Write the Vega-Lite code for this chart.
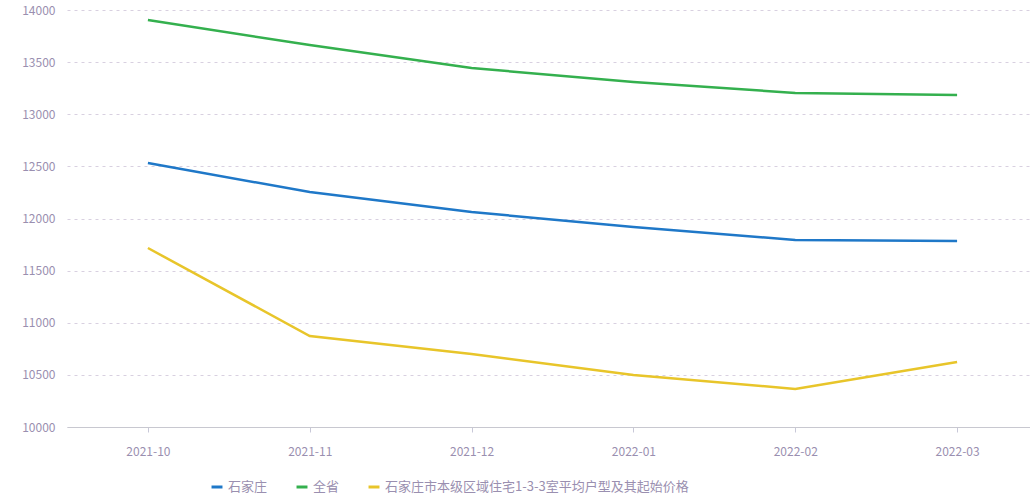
{
  "$schema": "https://vega.github.io/schema/vega-lite/v6.json",
  "width": 971,
  "height": 417,
  "padding": {"left": 21, "top": 4, "right": 0, "bottom": 4},
  "background": "white",
  "data": {
    "values": [
      {"month": "2021-10", "series": "石家庄", "value": 12532},
      {"month": "2021-11", "series": "石家庄", "value": 12254},
      {"month": "2021-12", "series": "石家庄", "value": 12062},
      {"month": "2022-01", "series": "石家庄", "value": 11918},
      {"month": "2022-02", "series": "石家庄", "value": 11794},
      {"month": "2022-03", "series": "石家庄", "value": 11784},
      {"month": "2021-10", "series": "全省", "value": 13904},
      {"month": "2021-11", "series": "全省", "value": 13664},
      {"month": "2021-12", "series": "全省", "value": 13444},
      {"month": "2022-01", "series": "全省", "value": 13309},
      {"month": "2022-02", "series": "全省", "value": 13204},
      {"month": "2022-03", "series": "全省", "value": 13185},
      {"month": "2021-10", "series": "石家庄市本级区域住宅1-3-3室平均户型及其起始价格", "value": 11717},
      {"month": "2021-11", "series": "石家庄市本级区域住宅1-3-3室平均户型及其起始价格", "value": 10873},
      {"month": "2021-12", "series": "石家庄市本级区域住宅1-3-3室平均户型及其起始价格", "value": 10700},
      {"month": "2022-01", "series": "石家庄市本级区域住宅1-3-3室平均户型及其起始价格", "value": 10499},
      {"month": "2022-02", "series": "石家庄市本级区域住宅1-3-3室平均户型及其起始价格", "value": 10365},
      {"month": "2022-03", "series": "石家庄市本级区域住宅1-3-3室平均户型及其起始价格", "value": 10624}
    ]
  },
  "config": {
    "view": {"stroke": null},
    "font": "Noto Sans CJK SC"
  },
  "mark": {"type": "line", "strokeWidth": 2.5, "interpolate": "linear"},
  "encoding": {
    "x": {
      "field": "month",
      "type": "ordinal",
      "scale": {"type": "point", "padding": 0.5},
      "axis": {
        "title": null,
        "labelAngle": 0,
        "labelFontSize": 12,
        "labelColor": "#9a8fb0",
        "labelPadding": 14,
        "tickSize": 5,
        "tickColor": "#c8c8d8",
        "domainColor": "#c8c8d0",
        "grid": false
      }
    },
    "y": {
      "field": "value",
      "type": "quantitative",
      "scale": {"domain": [10000, 14000], "nice": false},
      "axis": {
        "title": null,
        "values": [10000, 10500, 11000, 11500, 12000, 12500, 13000, 13500, 14000],
        "format": "d",
        "labelFontSize": 12,
        "labelColor": "#9a8fb0",
        "labelPadding": 12,
        "ticks": false,
        "domain": false,
        "gridColor": "#d8d0e0",
        "gridDash": [3, 4],
        "gridWidth": 1
      }
    },
    "color": {
      "field": "series",
      "type": "nominal",
      "sort": null,
      "scale": {
        "domain": ["石家庄", "全省", "石家庄市本级区域住宅1-3-3室平均户型及其起始价格"],
        "range": ["#1f78c8", "#34b04e", "#e8c52a"]
      },
      "legend": {
        "title": null,
        "orient": "none",
        "legendX": 143,
        "legendY": 470,
        "direction": "horizontal",
        "symbolType": "stroke",
        "symbolStrokeWidth": 3,
        "symbolSize": 120,
        "labelFontSize": 13,
        "labelColor": "#9a8fb0",
        "labelLimit": 700,
        "columnPadding": 22
      }
    }
  }
}
